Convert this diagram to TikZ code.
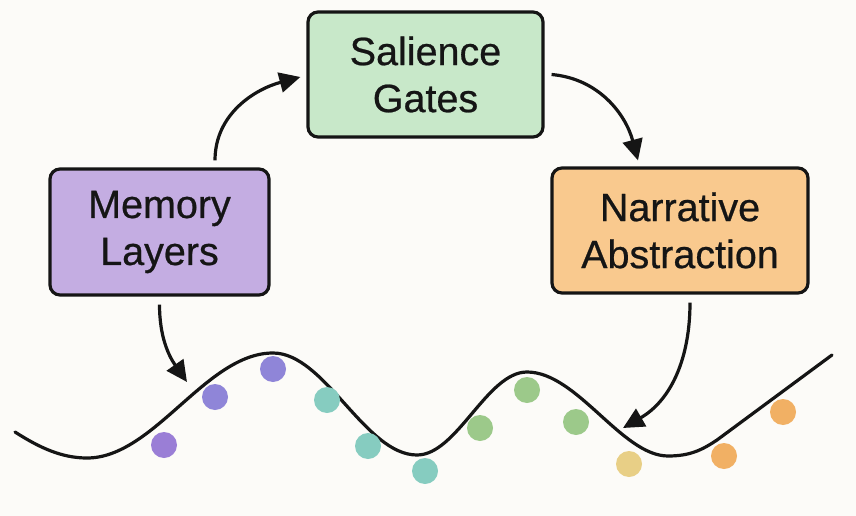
\documentclass[tikz,border=0pt]{standalone}
\usepackage{fontspec}
\setmainfont{Liberation Sans}
\newfontfamily\boxfont[FakeBold=0.6]{Liberation Sans}
\usetikzlibrary{arrows.meta}
\definecolor{bg}{HTML}{FCFBF8}
\definecolor{memfill}{HTML}{C4ADE2}
\definecolor{salfill}{HTML}{C8E8C9}
\definecolor{narfill}{HTML}{F9C98E}
\definecolor{ink}{HTML}{151515}
\definecolor{dpurpleA}{HTML}{9A7ED6}
\definecolor{dpurpleB}{HTML}{8F85D8}
\definecolor{dteal}{HTML}{86CCC0}
\definecolor{dgreen}{HTML}{9CC98A}
\definecolor{dyellow}{HTML}{E8CF86}
\definecolor{dorange}{HTML}{F1B064}
\tikzset{
  box/.style={draw=ink, line width=3.2pt, rounded corners=10pt, align=center,
    inner sep=0pt, font=\boxfont\fontsize{39.5}{47}\selectfont, text=ink},
  arr/.style={draw=ink, line width=3.2pt, -{Triangle[length=21pt,width=20pt]}},
  wave/.style={draw=ink, line width=3.2pt, line cap=round}
}
\begin{document}
\begin{tikzpicture}[x=1pt,y=-1pt]
\useasboundingbox (0,0) rectangle (856,516);
\fill[bg] (0,0) rectangle (856,516);

\node[box, fill=memfill, minimum width=219pt, minimum height=126pt] (mem) at (159.5,232) {Memory\\Layers};
\node[box, fill=salfill, minimum width=235pt, minimum height=125pt] (sal) at (425.5,74.5) {Salience\\Gates};
\node[box, fill=narfill, minimum width=256pt, minimum height=125pt] (nar) at (680,230.5) {Narrative\\Abstraction};

% wave
\draw[wave] (15,432) .. controls (40,448) and (62,458) .. (87,458)
  .. controls (154,458) and (206,353) .. (273,353)
  .. controls (325,353) and (365,455) .. (417,455)
  .. controls (457,455) and (487,372) .. (527,372)
  .. controls (577,372) and (622,456) .. (668,456)
  .. controls (690,456) and (702,450) .. (717,440) -- (832,355);

% dots
\fill[dpurpleA] (164,445) circle (13pt);
\fill[dpurpleB] (215,397) circle (13pt);
\fill[dpurpleB] (273,369) circle (13pt);
\fill[dteal] (327,400) circle (13pt);
\fill[dteal] (368,446) circle (13pt);
\fill[dteal] (425,471) circle (13pt);
\fill[dgreen] (480,428) circle (13pt);
\fill[dgreen] (527,390) circle (13pt);
\fill[dgreen] (576,422) circle (13pt);
\fill[dyellow] (629,464) circle (13pt);
\fill[dorange] (724,456) circle (13pt);
\fill[dorange] (783,412) circle (13pt);

% arrows
\coordinate (t3) at (187,382);
\coordinate (t4) at (623,428);
\draw[arr] ([xshift=55.5pt,yshift=7pt]mem.north) to[out=90,in=195] ([xshift=-6pt,yshift=-2.5pt]sal.west);
\draw[arr] ([xshift=7pt]sal.east) to[out=-5,in=105] ([xshift=-42pt,yshift=6pt]nar.north);
\draw[arr] ([yshift=-8pt]mem.south) to[out=-90,in=125] (t3);
\draw[arr] ([xshift=10pt,yshift=-8pt]nar.south) to[out=-90,in=30] (t4);
\end{tikzpicture}
\end{document}
